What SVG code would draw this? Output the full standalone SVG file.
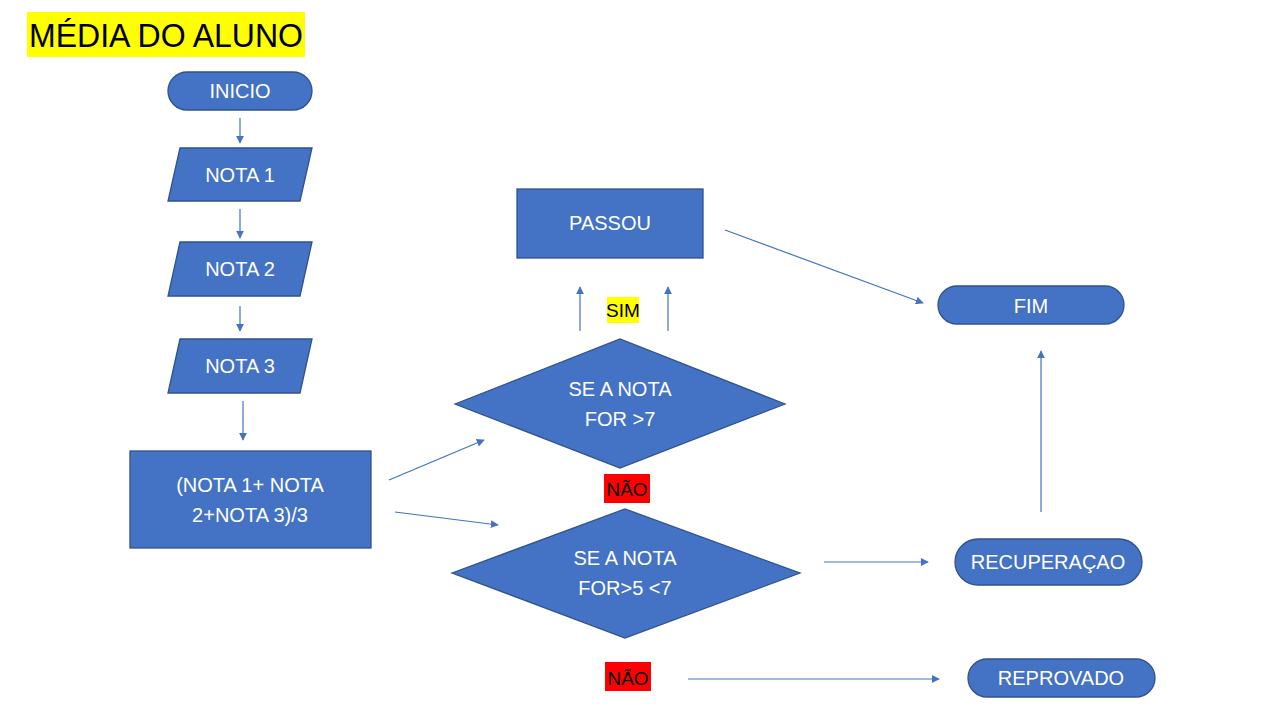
<svg xmlns="http://www.w3.org/2000/svg" width="1280" height="720" viewBox="0 0 1280 720">
<style>
.shape{fill:#4472C4;stroke:#2F528F;stroke-width:1.3}
.t{font-family:"Liberation Sans",Arial,sans-serif;font-size:20px;fill:#FFFFFF;text-anchor:middle}
.lbl{font-family:"Liberation Sans",Arial,sans-serif;font-size:19px;fill:#000000;text-anchor:middle}
.conn line{stroke:#4472C4;stroke-width:1.2;fill:none;marker-end:url(#ah)}
</style>
<defs>
<marker id="ah" viewBox="0 0 10 10" refX="9" refY="5" markerWidth="8" markerHeight="8" markerUnits="userSpaceOnUse" orient="auto">
<path d="M0,0 L10,5 L0,10 z" fill="#4472C4"/>
</marker>
</defs>
<rect width="1280" height="720" fill="#FFFFFF"/>
<g id="title">
<rect x="27" y="12" width="278" height="45" fill="#FFFF00"/>
<text x="166" y="47" font-family="'Liberation Sans',Arial,sans-serif" font-size="33" fill="#000" text-anchor="middle" textLength="274" lengthAdjust="spacingAndGlyphs">MÉDIA DO ALUNO</text>
</g>
<g id="inicio">
<rect class="shape" x="168" y="72" width="144" height="38" rx="19"/>
<text class="t" x="240" y="98">INICIO</text>
</g>
<g id="nota1">
<polygon class="shape" points="180,148 312,148 300,201 168,201"/>
<text class="t" x="240" y="182">NOTA 1</text>
</g>
<g id="nota2">
<polygon class="shape" points="180,242 312,242 300,296 168,296"/>
<text class="t" x="240" y="276">NOTA 2</text>
</g>
<g id="nota3">
<polygon class="shape" points="180,339 312,339 300,393 168,393"/>
<text class="t" x="240" y="373">NOTA 3</text>
</g>
<g id="media">
<rect class="shape" x="130" y="451" width="241" height="97"/>
<text class="t" x="250" y="492">(NOTA 1+ NOTA</text>
<text class="t" x="250" y="522">2+NOTA 3)/3</text>
</g>
<g id="decisao1">
<polygon class="shape" points="455,404 620,339 785,404 620,468"/>
<text class="t" x="620" y="396">SE A NOTA</text>
<text class="t" x="620" y="426">FOR &gt;7</text>
</g>
<g id="passou">
<rect class="shape" x="517" y="189" width="186" height="69"/>
<text class="t" x="610" y="230">PASSOU</text>
</g>
<g id="fim">
<rect class="shape" x="938" y="286" width="186" height="38" rx="19"/>
<text class="t" x="1031" y="313">FIM</text>
</g>
<g id="decisao2">
<polygon class="shape" points="452,573 625,509 800,573 625,638"/>
<text class="t" x="625" y="565">SE A NOTA</text>
<text class="t" x="625" y="595">FOR&gt;5 &lt;7</text>
</g>
<g id="recuperacao">
<rect class="shape" x="955" y="539" width="187" height="46" rx="23"/>
<text class="t" x="1048" y="569">RECUPERAÇAO</text>
</g>
<g id="reprovado">
<rect class="shape" x="968" y="659" width="187" height="38" rx="19"/>
<text class="t" x="1061" y="685">REPROVADO</text>
</g>
<g id="sim">
<rect x="607" y="297" width="32" height="26" fill="#FFFF00"/>
<text class="lbl" x="623" y="317">SIM</text>
</g>
<g id="nao1">
<rect x="604" y="474" width="46" height="29" fill="#FF0000"/>
<text class="lbl" x="627" y="496">NÃO</text>
</g>
<g id="nao2">
<rect x="605" y="662" width="46" height="29" fill="#FF0000"/>
<text class="lbl" x="628" y="685">NÃO</text>
</g>
<g id="connectors" class="conn">
<line x1="240" y1="118" x2="240" y2="143"/>
<line x1="240" y1="209" x2="240" y2="238"/>
<line x1="240" y1="306" x2="240" y2="331"/>
<line x1="243" y1="401" x2="243" y2="440"/>
<line x1="389" y1="480" x2="484" y2="440"/>
<line x1="395" y1="512" x2="498" y2="525"/>
<line x1="580" y1="331" x2="580" y2="287"/>
<line x1="668" y1="331" x2="668" y2="287"/>
<line x1="725" y1="230" x2="923" y2="303"/>
<line x1="1041" y1="512" x2="1041" y2="351"/>
<line x1="824" y1="562" x2="928" y2="562"/>
<line x1="688" y1="679" x2="939" y2="679"/>
</g>
</svg>
